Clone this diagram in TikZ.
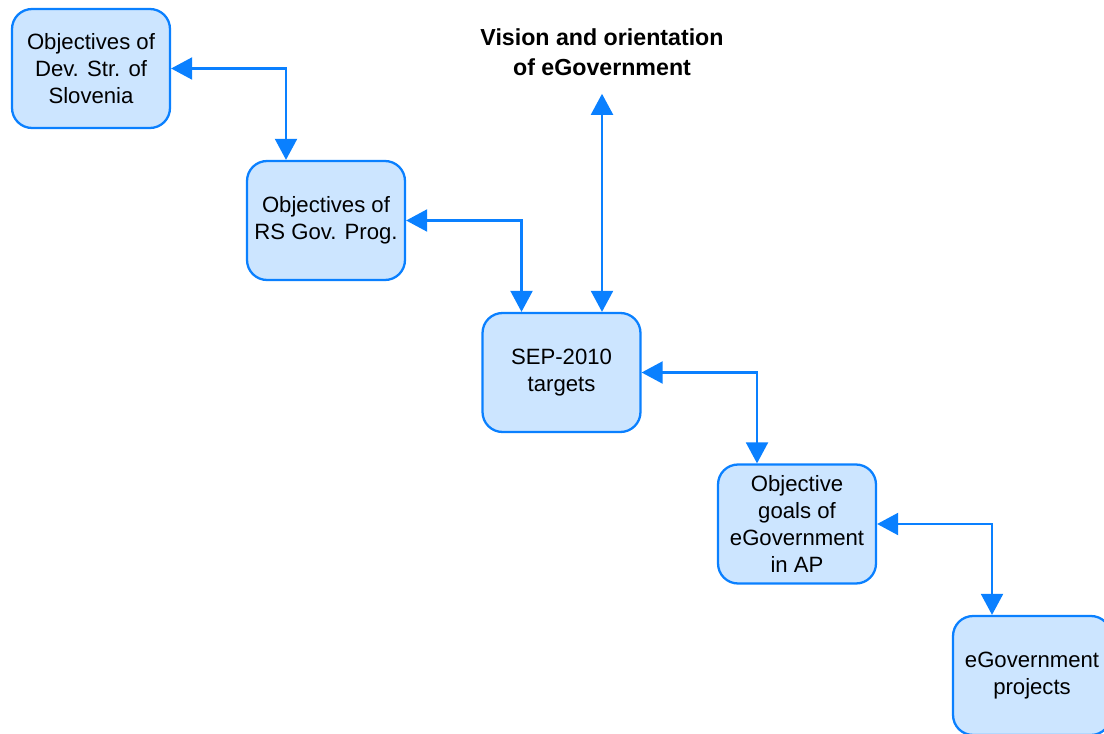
\documentclass[tikz,border=0pt]{standalone}
\usepackage{fontspec}
\setmainfont{Liberation Sans}
\usepackage{xcolor}
\usepackage{tikz}
\usetikzlibrary{arrows.meta}
\definecolor{boxFill}{HTML}{CCE5FF}
\definecolor{boxLine}{HTML}{0A80FF}
\tikzset{
	goal/.style = {draw = boxLine, fill = boxFill, line width = 1.3pt, rounded corners = 0.4cm,
		minimum width = 3.16cm, minimum height = 2.38cm, align = center, inner sep = 0pt,
		font = \fontsize{12.6}{15.4}\selectfont},
	link/.style = {draw = boxLine, line width = 1.2pt, <->,
		>={Triangle[length = 0.42cm, width = 0.44cm]}}
}
\newcommand{\goalNode}[4]{
	\node[goal] (#1) at (#2, #3) {#4};
}

\begin{document}
\begin{tikzpicture}[x = 0.02cm, y = -0.02cm]%

		\useasboundingbox (0, 0) rectangle (1104, 733);
		\clip (0, 0) rectangle (1104, 733);

		% goals, top left to bottom right
		\goalNode{devStr}{91}{68.5}{Objectives of\\Dev. Str. of\\Slovenia}
		\goalNode{govProg}{326}{220.5}{Objectives of\\RS Gov. Prog.}
		\goalNode{sep}{561.5}{372.5}{SEP-2010\\targets}
		\goalNode{apGoals}{797}{524}{Objective\\goals of\\eGovernment\\in AP}
		\goalNode{projects}{1032}{675.5}{eGovernment\\projects}

		% vision
		\node[align = center, inner xsep = 0pt, inner ysep = 0.36cm,
			font = \fontsize{13.2}{17}\selectfont\bfseries] (vision) at (602, 52)
			{Vision and orientation\\of eGovernment};

		% links
		\draw[link] (devStr.east) -| ([xshift = -0.8cm]govProg.north);
		\draw[link] (govProg.east) -| ([xshift = -0.8cm]sep.north);
		\draw[link] (vision.south) -- (vision.south |- sep.north);
		\draw[link] (sep.east) -| ([xshift = -0.8cm]apGoals.north);
		\draw[link] (apGoals.east) -| ([xshift = -0.8cm]projects.north);

	\end{tikzpicture}
\end{document}
